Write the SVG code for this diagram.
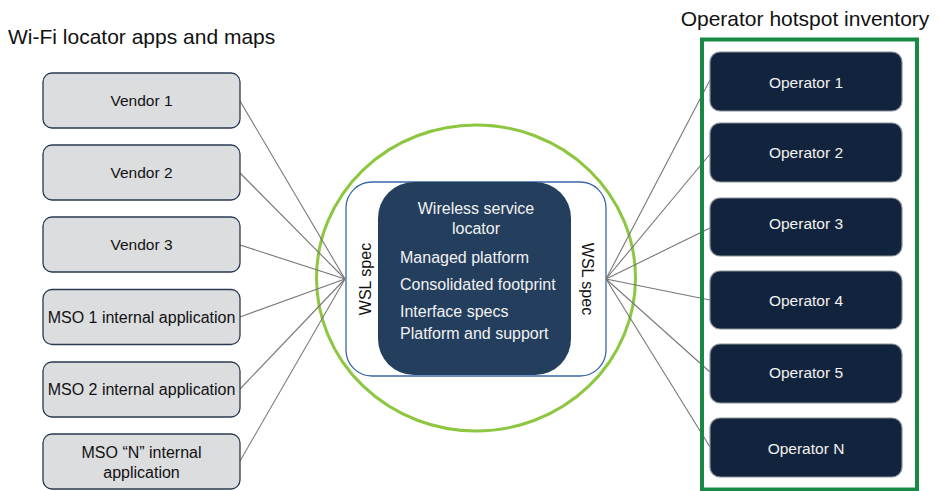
<svg xmlns="http://www.w3.org/2000/svg" width="939" height="491" viewBox="0 0 939 491">
<style>
text{font-family:"Liberation Sans",Arial,sans-serif;}
.title{font-size:21px;fill:#111;}
.lbox{fill:#dcdddf;stroke:#2a3a50;stroke-width:1.3;}
.ltxt{font-size:15.5px;fill:#111;text-anchor:middle;}
.obox{fill:#12243d;stroke:#8a8f96;stroke-width:1.2;}
.otxt{font-size:15.5px;fill:#f2f2f2;text-anchor:middle;}
.conn{stroke:#777;stroke-width:1.1;fill:none;}
.ctxt{font-size:16px;fill:#f2f2f2;}
.spec{font-size:16px;fill:#111;text-anchor:middle;}
</style>
<rect width="939" height="491" fill="#fff"/>
<text class="title" x="8" y="44">Wi-Fi locator apps and maps</text>
<text class="title" x="805" y="26" text-anchor="middle">Operator hotspot inventory</text>

<g id="hub-ring"><ellipse cx="476" cy="278" rx="159.5" ry="153" fill="none" stroke="#8dc641" stroke-width="3"/></g>
<g id="wsl-frame"><rect x="346" y="182" width="260" height="194" rx="26" fill="#fff" stroke="#3a68a8" stroke-width="1.3"/>
<text class="spec" transform="translate(371,279) rotate(-90)">WSL spec</text>
<text class="spec" transform="translate(582,279) rotate(90)">WSL spec</text>
</g>
<g id="connectors">
<line class="conn" x1="240" y1="101" x2="345" y2="279"/>
<line class="conn" x1="240" y1="173" x2="345" y2="279"/>
<line class="conn" x1="240" y1="245" x2="345" y2="279"/>
<line class="conn" x1="240" y1="317" x2="345" y2="279"/>
<line class="conn" x1="240" y1="389" x2="345" y2="279"/>
<line class="conn" x1="240" y1="461" x2="345" y2="279"/>
<line class="conn" x1="606" y1="279" x2="710" y2="80"/>
<line class="conn" x1="606" y1="279" x2="710" y2="154"/>
<line class="conn" x1="606" y1="279" x2="710" y2="228"/>
<line class="conn" x1="606" y1="279" x2="710" y2="300"/>
<line class="conn" x1="606" y1="279" x2="710" y2="372"/>
<line class="conn" x1="606" y1="279" x2="710" y2="447"/>
</g>
<g id="wsl">
<rect x="378" y="182" width="193" height="193" rx="36" fill="#243f5e"/>
<text class="ctxt" x="476" y="214" text-anchor="middle">Wireless service</text>
<text class="ctxt" x="476" y="234" text-anchor="middle">locator</text>
<text class="ctxt" x="400" y="263">Managed platform</text>
<text class="ctxt" x="400" y="290">Consolidated footprint</text>
<text class="ctxt" x="400" y="317">Interface specs</text>
<text class="ctxt" x="400" y="339">Platform and support</text>
</g>

<g id="vendor1"><rect class="lbox" x="43" y="73" width="197" height="55" rx="9"/><text class="ltxt" x="141.5" y="106">Vendor 1</text></g>
<g id="vendor2"><rect class="lbox" x="43" y="145" width="197" height="55" rx="9"/><text class="ltxt" x="141.5" y="178">Vendor 2</text></g>
<g id="vendor3"><rect class="lbox" x="43" y="217" width="197" height="55" rx="9"/><text class="ltxt" x="141.5" y="250">Vendor 3</text></g>
<g id="mso1"><rect class="lbox" x="43" y="289.5" width="197" height="55" rx="9"/><text class="ltxt" x="141.5" y="323" style="font-size:16px">MSO 1 internal application</text></g>
<g id="mso2"><rect class="lbox" x="43" y="362" width="197" height="55" rx="9"/><text class="ltxt" x="141.5" y="395" style="font-size:16px">MSO 2 internal application</text></g>
<g id="msoN"><rect class="lbox" x="43" y="434" width="197" height="55" rx="9"/><text class="ltxt" x="141.5" y="458" style="font-size:16px">MSO “N” internal</text><text class="ltxt" x="141.5" y="478" style="font-size:16px">application</text></g>

<g id="inventory"><rect x="702" y="39.5" width="215" height="450" fill="none" stroke="#168a45" stroke-width="4"/></g>
<g id="op1"><rect class="obox" x="710" y="52" width="192" height="59" rx="10"/><text class="otxt" x="806" y="88">Operator 1</text></g>
<g id="op2"><rect class="obox" x="710" y="123" width="192" height="59" rx="10"/><text class="otxt" x="806" y="158">Operator 2</text></g>
<g id="op3"><rect class="obox" x="710" y="198" width="192" height="58" rx="10"/><text class="otxt" x="806" y="229">Operator 3</text></g>
<g id="op4"><rect class="obox" x="710" y="271" width="192" height="58" rx="10"/><text class="otxt" x="806" y="306">Operator 4</text></g>
<g id="op5"><rect class="obox" x="710" y="344" width="192" height="59" rx="10"/><text class="otxt" x="806" y="378">Operator 5</text></g>
<g id="opN"><rect class="obox" x="710" y="418" width="192" height="59" rx="10"/><text class="otxt" x="806" y="454">Operator N</text></g>
</svg>
